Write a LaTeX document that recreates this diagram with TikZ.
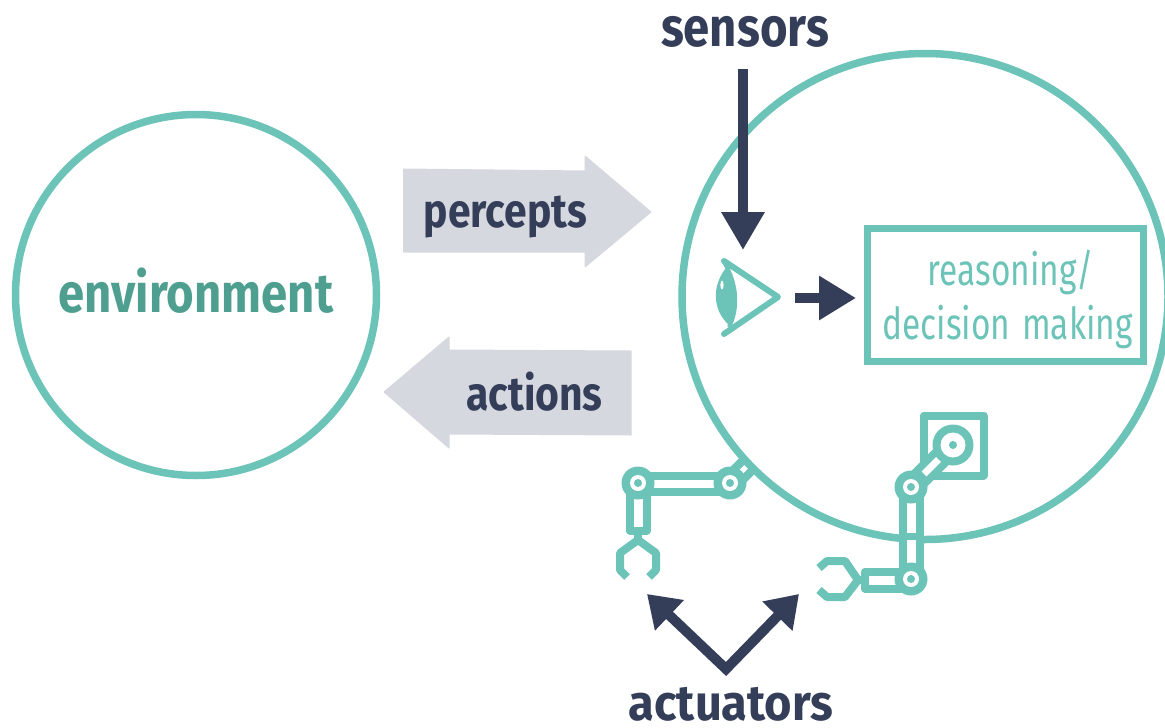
\documentclass[tikz,border=0pt]{standalone}
\usepackage{fontspec}
\setmainfont{Fira Sans}
\newfontfamily\labfont[BoldFont=Fira Sans Bold,FakeStretch=0.86]{Fira Sans}
\newfontfamily\widefont[BoldFont=Fira Sans Bold,FakeStretch=0.94]{Fira Sans}
\newfontfamily\lightfont[FakeStretch=0.76]{Fira Sans}
\usetikzlibrary{arrows.meta}
\definecolor{teal1}{HTML}{6CC3B7}
\definecolor{teal2}{HTML}{4F9F90}
\definecolor{navy1}{HTML}{343E59}
\definecolor{gray1}{HTML}{D6D8DF}
\tikzset{
 x=1pt,y=-1pt,
 ring/.style={draw=teal1,line width=7.5pt,fill=none,outer sep=0pt},
 robot/.style={draw=teal1,line width=8pt,line join=round,line cap=butt},
 bar/.style={draw=teal1,fill=white,line width=8pt,line join=round},
 navyarrow/.style={draw=navy1,line width=9.5pt,-{Triangle[length=38pt,width=41pt,fill=navy1]}},
 vee/.style={draw=navy1,line width=10pt,line join=miter,{Triangle[length=31pt,width=40pt,fill=navy1]}-{Triangle[length=31pt,width=40pt,fill=navy1]}},
 grayarrow/.style={fill=gray1,draw=gray1,line width=1pt,line join=round},
 boldlabel/.style={font=\labfont\bfseries\fontsize{55}{58}\selectfont,text=navy1,inner sep=0pt},
 midlabel/.style={font=\labfont\bfseries\fontsize{47.5}{50}\selectfont,text=navy1,inner sep=0pt},
 thinlabel/.style={font=\lightfont\fontsize{44}{48}\selectfont,text=teal1,inner sep=0pt},
}
\newcommand{\joint}[1]{%
 \fill[teal1] (#1) circle[radius=16.5pt];
 \fill[white] (#1) circle[radius=8pt];
 \fill[teal1] (#1) circle[radius=4pt];
}
\begin{document}
\begin{tikzpicture}
\useasboundingbox (0,0) rectangle (1165,728);
% circles
\node[ring,circle,minimum size=361pt,inner sep=0pt] (env) at (196,295) {};
% left robot shoulder lies under the agent ring
\draw[robot,line width=22pt] (730,483) -- (748,465);
\draw[white,line width=5pt] (741,472) -- (746,467);
\begin{scope}
\clip (0,0) rectangle (1165,728);
\node[ring,circle,minimum size=486pt,inner sep=0pt] (agent) at (925,296.5) {};
\end{scope}
\node[font=\labfont\bfseries\fontsize{55}{58}\selectfont,text=teal2,inner sep=0pt] (envt) at (196,291) {environment};
% block arrows
\fill[grayarrow] (403.5,169) -- (585,171) -- (585,156) -- (651,212) -- (585,267) -- (585,252) -- (403.5,252) -- cycle;
\fill[grayarrow] (631,351) -- (449,350) -- (449,337) -- (384,392) -- (449,448) -- (449,434) -- (631,435) -- cycle;
\node[midlabel] (percepts) at (505.5,217) {percepts};
\node[midlabel] (actions) at (534.5,392) {actions};
% sensors
\node[boldlabel] (sensors) at (745,32) {sensors};
\coordinate (senstop) at (743,69);
\coordinate (senstip) at (743,250);
\draw[navyarrow] (senstop) -- (senstip);
% eye
\coordinate (eyeapex) at (778,297);
\coordinate (eyeT) at (724,261);
\coordinate (eyeB) at (724,334);
\draw[teal1,line width=6pt,line cap=round,line join=round] (eyeT) -- (eyeapex) -- (eyeB);
\fill[teal1] (726,268) .. controls (712,285) and (712,310) .. (729,325) .. controls (740,308) and (740,288) .. cycle;
\draw[teal1,line width=4pt] (724,262) .. controls (738,285) and (738,310) .. (729,327);
\fill[white] (722,285) ellipse[x radius=1.6pt,y radius=4.5pt];
% box
\node[draw=teal1,line width=7pt,minimum width=276pt,minimum height=133.5pt,inner sep=0pt,outer sep=0pt] (box) at (1005,295) {};
\node[thinlabel] (t1) at (1011,272) {reasoning/};
\node[thinlabel] (t2) at (1007.5,327) {decision\hspace{12pt}making};
% eye-to-box arrow
\coordinate (arrA) at (795,298);
\coordinate (arrB) at (856,298);
\draw[navy1,line width=10pt,-{Triangle[length=37pt,width=42pt,fill=navy1]}] (arrA) -- (arrB);
% left robot
\draw[bar] (638,475.5) rectangle (730,492);
\draw[bar] (630,483) rectangle (646.5,531);
\joint{638,483}
\joint{730,483}
\draw[robot] (638,531) -- (638,540);
\draw[robot] (627,577) -- (620,570) -- (620,553) -- (638,540) -- (656,553) -- (656,570) -- (649,577);
% right robot
\draw[robot] (923.5,415.5) rectangle (983.5,475.5);
\draw[teal1,line width=22pt] (911,487) -- (953,445);
\draw[white,line width=7pt] (924,474) -- (940,458);
\fill[teal1] (953,445) circle[radius=20.5pt];
\fill[white] (953,445) circle[radius=12.5pt];
\fill[teal1] (953,445) circle[radius=4pt];
\draw[bar] (903,487) rectangle (920,579);
\draw[draw=teal1,line width=7pt] (903,536.5) -- (920,536.5);
\draw[bar] (865,571.5) rectangle (911,588.5);
\joint{911,487}
\joint{911,579}
\draw[robot] (865,580) -- (858,580);
\draw[robot] (819,568) -- (827,561) -- (845,561) -- (858,580) -- (845,597) -- (827,597) -- (819,590);
% actuators
\node[boldlabel,font=\widefont\bfseries\fontsize{50}{54}\selectfont] (actuators) at (731,704) {actuators};
\coordinate (vtip) at (726,669);
\coordinate (lt) at (647,594);
\coordinate (rt) at (799,594);
\draw[vee] (lt) -- (vtip) -- (rt);
\end{tikzpicture}
\end{document}
